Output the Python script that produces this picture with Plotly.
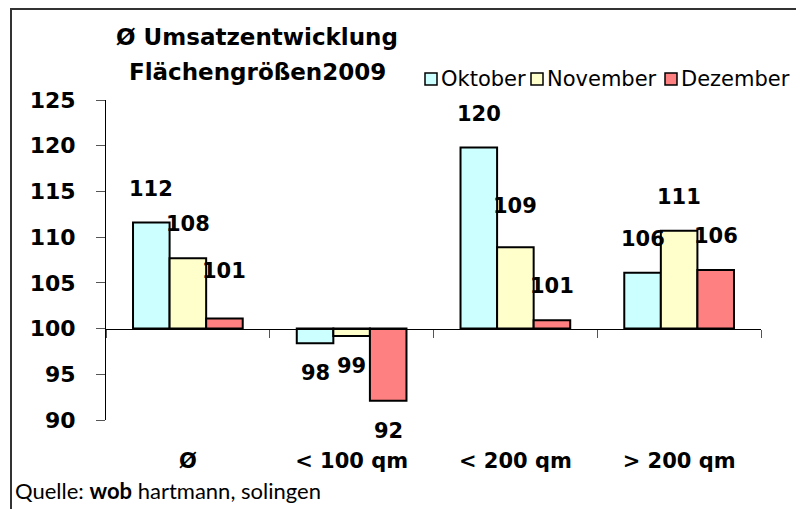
import plotly.graph_objects as go

# ---- data ----
categories = ["Ø", "< 100 qm", "< 200 qm", "> 200 qm"]
series_names = ["Oktober", "November", "Dezember"]
oktober = [111.6, 98.4, 119.8, 106.1]
november = [107.7, 99.2, 108.9, 110.7]
dezember = [101.1, 92.1, 100.9, 106.4]
y_ticks = [90, 95, 100, 105, 110, 115, 120, 125]
base_value = 100

# ---- style ----
colors = ["#CCFFFF", "#FFFFCC", "#FF8080"]
OFF = 8                      # page body margin of the html page
W, H = 804 - OFF, 509 - OFF
ML, MT = 106 - OFF, 100 - OFF
MR, MB = W - (761 - OFF), H - (420 - OFF)
BARGAP = 0.33
LABEL_FONT = dict(family="DejaVu Sans", size=21, color="black")
label_nudge = {(0, 2): 14, (2, 1): 7}
legend_swatch_left = [425, 531, 665]   # screen px positions of the legend squares

series = [oktober, november, dezember]
fig = go.Figure()
for name, vals, col in zip(series_names, series, colors):
    fig.add_trace(go.Bar(
        name=name, x=categories, y=[v - base_value for v in vals], base=base_value,
        marker=dict(color=col, line=dict(color="black", width=2)),
        hoverinfo="skip", showlegend=False,
    ))

plot_w = W - ML - MR
plot_h = H - MT - MB
bar_px = plot_w / len(categories) * (1 - BARGAP) / len(series)


def px_x(p):
    return (p - OFF - ML) / plot_w


def px_y(p):
    return (H - MB - (p - OFF)) / plot_h


ann = []
for si, vals in enumerate(series):
    for ci, v in enumerate(vals):
        up = v >= base_value
        shift = (34 if up else -30) + label_nudge.get((ci, si), 0)
        ann.append(dict(
            x=categories[ci], y=v, xref="x", yref="y", showarrow=False,
            text="<b>%d</b>" % round(v), font=LABEL_FONT,
            xanchor="center", yanchor="middle",
            xshift=(si - 1) * bar_px, yshift=shift,
        ))

TITLE_FONT = dict(family="DejaVu Sans", size=23, color="black")
ann.append(dict(x=px_x(257), y=px_y(37), xref="paper", yref="paper", showarrow=False,
                xanchor="center", yanchor="middle",
                text="<b>Ø Umsatzentwicklung</b>", font=TITLE_FONT))
ann.append(dict(x=px_x(257), y=px_y(72), xref="paper", yref="paper", showarrow=False,
                xanchor="center", yanchor="middle",
                text="<b>Flächengrößen2009</b>", font=TITLE_FONT))
ann.append(dict(x=px_x(13), y=px_y(490), xref="paper", yref="paper", showarrow=False,
                xanchor="left", yanchor="middle", text="Quelle: <b>wob</b> hartmann, solingen",
                font=dict(family="Lato", size=22, color="black")))

shapes = [dict(type="rect", xref="paper", yref="paper",
               x0=px_x(11), x1=px_x(799), y0=px_y(530), y1=px_y(9),
               line=dict(color="#333333", width=2), fillcolor="rgba(0,0,0,0)", layer="below")]

# legend (swatch + text)
for name, col, left in zip(series_names, colors, legend_swatch_left):
    shapes.append(dict(type="rect", xref="paper", yref="paper",
                       x0=px_x(left), x1=px_x(left + 12), y0=px_y(85), y1=px_y(73),
                       line=dict(color="black", width=1.5), fillcolor=col))
    ann.append(dict(x=px_x(left + 14), y=px_y(79), xref="paper", yref="paper",
                    showarrow=False, xanchor="left", yanchor="middle", text=name,
                    font=dict(family="DejaVu Sans", size=21, color="black")))

fig.update_layout(
    width=W, height=H,
    margin=dict(l=ML, r=MR, t=MT, b=MB, autoexpand=False),
    paper_bgcolor="white", plot_bgcolor="white",
    barmode="group", bargap=BARGAP, bargroupgap=0,
    showlegend=False,
    annotations=ann,
    shapes=shapes,
    xaxis=dict(
        type="category", anchor="free",
        position=(base_value - y_ticks[0]) / (y_ticks[-1] - y_ticks[0]),
        showline=True, linecolor="black", linewidth=1,
        ticks="outside", tickson="boundaries", ticklen=8, tickcolor="#555555",
        showgrid=False, zeroline=False,
        tickfont=dict(family="DejaVu Sans", size=21, color="black"),
        ticklabelstandoff=113,
        tickvals=categories, ticktext=["<b>%s</b>" % c for c in categories],
    ),
    yaxis=dict(
        range=[y_ticks[0], y_ticks[-1]], tickvals=y_ticks,
        ticktext=["<b>%d</b>" % t for t in y_ticks],
        showline=True, linecolor="black", linewidth=1,
        ticks="outside", ticklen=9, tickcolor="#555555",
        showgrid=False, zeroline=False,
        tickfont=dict(family="DejaVu Sans", size=22, color="black"),
        ticklabelstandoff=16,
    ),
)

fig.write_html("out.html")
